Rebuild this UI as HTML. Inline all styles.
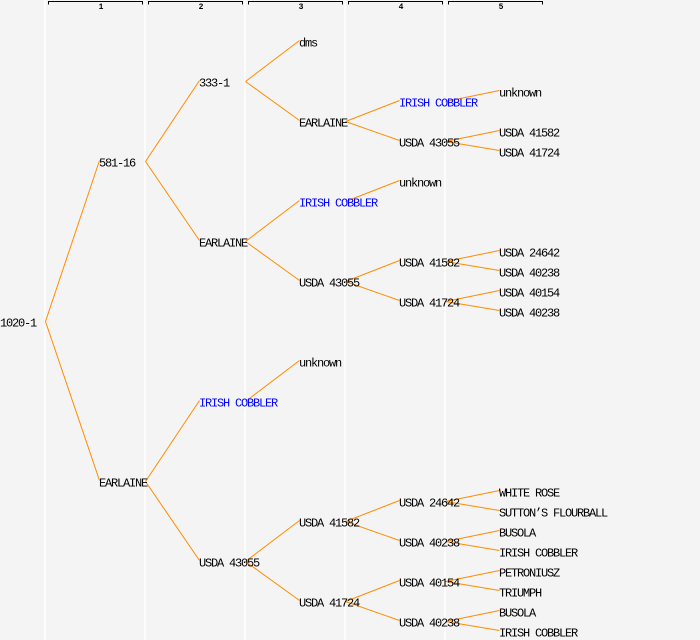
<!DOCTYPE html>
<html><head><meta charset="utf-8"><style>
html,body{margin:0;padding:0;background:#f4f4f4}
svg{display:block}
text{font-family:"Liberation Mono","DejaVu Sans Mono",monospace;font-size:12px;letter-spacing:-1.2px;fill:#000}
.b{fill:#0000ff}
.h{font-size:8px;letter-spacing:0;font-weight:bold}
line.e{stroke:#ff8c00;stroke-width:1}
</style></head><body>
<svg width="700" height="640" viewBox="0 0 700 640" xmlns="http://www.w3.org/2000/svg">
<rect width="700" height="640" fill="#f4f4f4"/>
<g stroke="#ffffff" stroke-width="1.5">
<line x1="45" y1="0" x2="45" y2="640"/><line x1="145" y1="0" x2="145" y2="640"/><line x1="245" y1="0" x2="245" y2="640"/><line x1="345" y1="0" x2="345" y2="640"/><line x1="445" y1="0" x2="445" y2="640"/>
</g>
<g stroke="#000" stroke-width="1" fill="none">
<path d="M48.5 4.5V1.5H142.5V4.5"/><path d="M148.5 4.5V1.5H242.5V4.5"/><path d="M248.5 4.5V1.5H342.5V4.5"/><path d="M348.5 4.5V1.5H442.5V4.5"/><path d="M448.5 4.5V1.5H542.5V4.5"/>
</g>
<g text-anchor="middle"><text class="h" x="101" y="9">1</text><text class="h" x="201" y="9">2</text><text class="h" x="301" y="9">3</text><text class="h" x="401" y="9">4</text><text class="h" x="501" y="9">5</text></g>
<g id="edges"></g>
<g id="labels"></g>
</svg>
<script>
var N=[
[0,322,"1020-1",-1],
[1,162,"581-16",0],[1,482,"EARLAINE",0],
[2,82,"333-1",1],[2,242,"EARLAINE",1],[2,402,"IRISH COBBLER",2,1],[2,562,"USDA 43055",2],
[3,42,"dms",3],[3,122,"EARLAINE",3],[3,202,"IRISH COBBLER",4,1],[3,282,"USDA 43055",4],[3,362,"unknown",5],[3,522,"USDA 41582",6],[3,602,"USDA 41724",6],
[4,102,"IRISH COBBLER",8,1],[4,142,"USDA 43055",8],[4,182,"unknown",9],[4,262,"USDA 41582",10],[4,302,"USDA 41724",10],[4,502,"USDA 24642",12],[4,542,"USDA 40238",12],[4,582,"USDA 40154",13],[4,622,"USDA 40238",13],
[5,92,"unknown",14],[5,132,"USDA 41582",15],[5,152,"USDA 41724",15],[5,252,"USDA 24642",17],[5,272,"USDA 40238",17],[5,292,"USDA 40154",18],[5,312,"USDA 40238",18],
[5,492,"WHITE ROSE",19],[5,512,"SUTTON\u2019S FLOURBALL",19],[5,532,"BUSOLA",20],[5,552,"IRISH COBBLER",20],[5,572,"PETRONIUSZ",21],[5,592,"TRIUMPH",21],[5,612,"BUSOLA",22],[5,632,"IRISH COBBLER",22]
];
var ns="http://www.w3.org/2000/svg",E=document.getElementById("edges"),L=document.getElementById("labels");
N.forEach(function(n){
 var x=n[0]==0?0:100*n[0]-1;
 var t=document.createElementNS(ns,"text");t.setAttribute("x",x);t.setAttribute("y",n[1]+4.5);if(n[4])t.setAttribute("class","b");t.textContent=n[2];L.appendChild(t);
 if(n[3]>=0){var p=N[n[3]];var l=document.createElementNS(ns,"line");l.setAttribute("class","e");
 l.setAttribute("x1",100*p[0]+45.5);l.setAttribute("y1",p[1]-0.5);l.setAttribute("x2",x+0.5);l.setAttribute("y2",n[1]-1.5);E.appendChild(l);}
});
</script>
</body></html>
